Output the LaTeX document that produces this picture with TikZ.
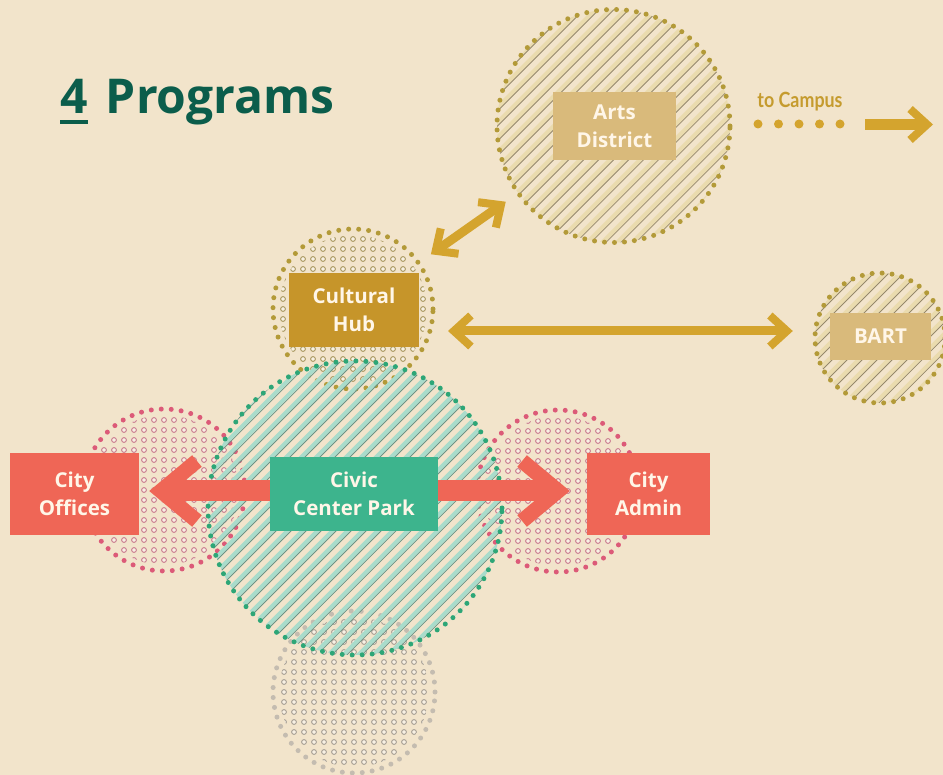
\documentclass[tikz,border=0pt]{standalone}
\usepackage{fontspec}
\setmainfont{Open Sans}
\newfontfamily\campusfont{Lato}
\usetikzlibrary{arrows.meta}

\definecolor{paper}{HTML}{F2E4CB}
\definecolor{titlegreen}{HTML}{0B5D4B}
\definecolor{hubgold}{HTML}{C6952A}
\definecolor{palegold}{HTML}{D9BA7B}
\definecolor{parkgreen}{HTML}{3DB48D}
\definecolor{coral}{HTML}{EF6656}
\definecolor{arrowgold}{HTML}{D4A42E}
\definecolor{campusgold}{HTML}{C59B2E}
\definecolor{labelwhite}{HTML}{FFF6E8}
\definecolor{rimgold}{HTML}{B39A38}
\definecolor{rimgreen}{HTML}{2DA677}
\definecolor{rimpink}{HTML}{DC5A78}
\definecolor{rimgrey}{HTML}{C4BCB0}
\definecolor{holefill}{HTML}{F8F1E4}
\definecolor{holegold}{HTML}{A8975E}
\definecolor{holepink}{HTML}{C97A8E}
\definecolor{holegrey}{HTML}{A69E93}
\definecolor{bandgold}{HTML}{EADBAE}
\definecolor{edgegold}{HTML}{958869}
\definecolor{bandgreen}{HTML}{A9DCCB}
\definecolor{edgegreen}{HTML}{6A9386}

\pgfdeclarelayer{paperlayer}
\pgfdeclarelayer{zones}
\pgfdeclarelayer{links}
\pgfsetlayers{paperlayer,zones,links,main}

\tikzset{
  zone/.style={circle, inner sep=0pt},
  rimdots/.style={line width=5pt, dash pattern=on 0pt off 10pt, line cap=round},
  tag/.style={inner sep=0pt, align=center, text=labelwhite,
    font=\bfseries\fontsize{20.5}{28}\selectfont},
  goldbarb/.tip={Straight Barb[length=17pt, width=31pt, line width=8pt, sharp]},
  coralbarb/.tip={Straight Barb[length=36pt, width=60pt, line width=15pt, sharp]},
  goldlink/.style={arrowgold, line width=9pt, goldbarb-goldbarb},
  corallink/.style={coral, line width=21pt, coralbarb-coralbarb},
}

% hatched disc: name, x, y, radius, band colour, edge colour, rim colour
\newcommand{\hatchzone}[7]{
  \node[zone, minimum size={2*#4 pt}] (#1) at (#2,#3) {};
  \begin{scope}[shift={(#2,#3)}]
    \clip (0,0) circle[radius=#4pt];
    \foreach \d in {-180,-169.4,...,180}{
      \pgfmathsetmacro\f{\d*0.7071}
      \pgfmathsetmacro\e{(\d+2.6)*0.7071}
      \draw[line width=4pt, #5] (\f-200,\f+200) -- (\f+200,\f-200);
      \draw[line width=0.8pt, #6] (\e-200,\e+200) -- (\e+200,\e-200);
    }
  \end{scope}
  \draw[rimdots, #7] (#1.center) circle[radius=#4pt];
}

% dotted disc: name, x, y, radius, hole colour, rim colour
\newcommand{\dotzone}[6]{
  \node[zone, minimum size={2*#4 pt}] (#1) at (#2,#3) {};
  \begin{scope}[shift={(#2,#3)}]
    \clip (0,0) circle[radius={#4pt-6pt}];
    \foreach \i in {-9,...,9}
      \foreach \j in {-9,...,9}
        \filldraw[fill=holefill, draw=#5, line width=0.9pt]
          (10*\i,10*\j) circle[radius=2.4pt];
  \end{scope}
  \draw[rimdots, #6] (#1.center) circle[radius=#4pt];
}

\begin{document}
\begin{tikzpicture}[x=1pt, y=-1pt]

\begin{pgfonlayer}{paperlayer}
\fill[paper] (0,0) rectangle (943,775);
\end{pgfonlayer}
\useasboundingbox (0,0) rectangle (943,775);

% zones
\begin{pgfonlayer}{zones}
\dotzone{lowzone}{354}{692}{81}{holegrey}{rimgrey}
\dotzone{hubzone}{353}{309}{80}{holegold}{rimgold}
\dotzone{officezone}{164}{490}{81}{holepink}{rimpink}
\dotzone{adminzone}{558}{491}{81}{holepink}{rimpink}
\hatchzone{parkzone}{355}{508}{147}{bandgreen}{edgegreen}{rimgreen}
\hatchzone{artszone}{613.5}{126}{116.5}{bandgold}{edgegold}{rimgold}
\hatchzone{bartzone}{880}{338}{65}{bandgold}{edgegold}{rimgold}
\end{pgfonlayer}

% labels
\node[tag, fill=palegold, minimum width=123pt, minimum height=68pt] (arts) at (614.5,126) {Arts\\District};
\node[tag, fill=hubgold, minimum width=130pt, minimum height=74pt] (hub) at (354,310) {Cultural\\Hub};
\node[tag, fill=palegold, minimum width=101pt, minimum height=47pt] (bart) at (880.5,336.5) {BART};
\node[tag, fill=parkgreen, minimum width=168pt, minimum height=74pt] (park) at (354,494) {Civic\\Center Park};
\node[tag, fill=coral, minimum width=129pt, minimum height=82pt] (offices) at (74.5,494) {City\\Offices};
\node[tag, fill=coral, minimum width=123pt, minimum height=82pt] (admin) at (648.5,494) {City\\Admin};

% title
\node[anchor=base west, inner sep=0pt, text=titlegreen, font=\bfseries\fontsize{48}{52}\selectfont] (four) at (60,114) {4};
\node[anchor=base west, inner sep=0pt, text=titlegreen, font=\bfseries\fontsize{48}{52}\selectfont] (programs) at ([xshift=18pt]four.base east) {Programs};
\fill[titlegreen] ([yshift=-6pt]four.base west) rectangle ([yshift=-10pt]four.base east);

% to campus
\node[anchor=base, inner sep=0pt, text=campusgold, font=\campusfont\bfseries\fontsize{21}{24}\selectfont] (campus) at (800,108) {\scalebox{0.85}[1]{to Campus}};
\foreach \k in {0,...,4}
  \fill[arrowgold] (758+20.5*\k,124) circle[radius=4.5pt];
\coordinate (campustail) at (865,124.5);
\coordinate (campustip) at (933,124.5);

% links
\begin{pgfonlayer}{links}
\draw[goldlink, shorten <=15pt, shorten >=15pt] (hubzone) -- (artszone);
\coordinate (hubright) at (448,331);
\draw[goldlink, shorten >=22pt] (hubright) -- (hubright -| bartzone.west);
\draw[corallink, shorten <=10pt, shorten >=17pt] ([yshift=3pt]offices.east) -- ([yshift=3pt]admin.west);
\draw[arrowgold, line width=11pt, -goldbarb] (campustail) -- (campustip);
\end{pgfonlayer}

\end{tikzpicture}
\end{document}
